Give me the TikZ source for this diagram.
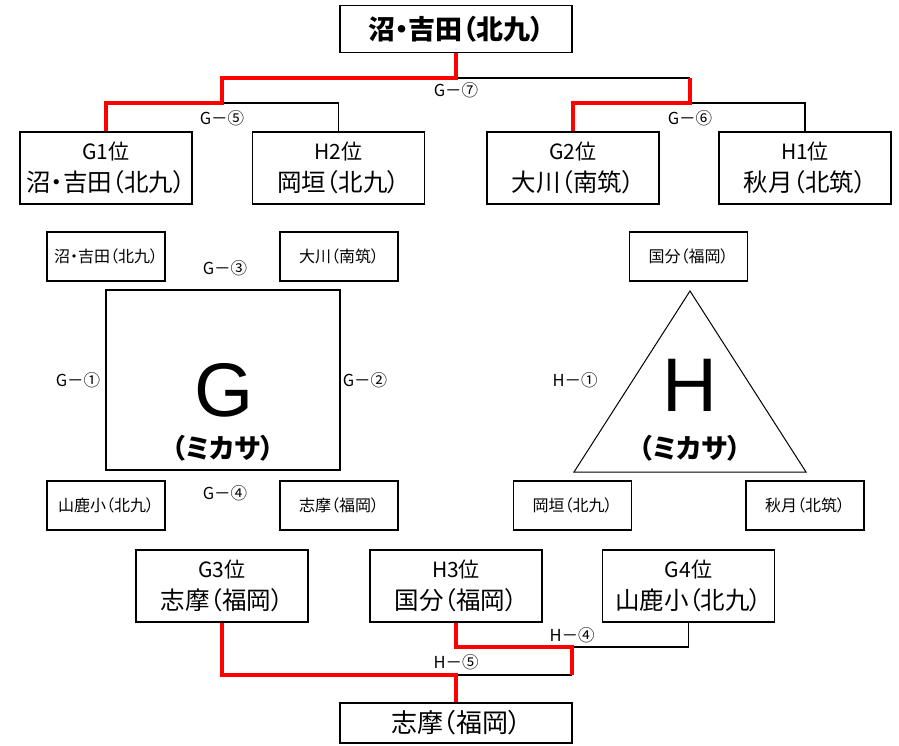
\documentclass[tikz,border=0pt]{standalone}
\usepackage{fontspec}
\setmainfont{Noto Sans CJK JP}[RawFeature=+palt]
\newfontfamily\latinbig{Liberation Sans}
\begin{document}
\begin{tikzpicture}[x=1pt,y=-1pt,
  box/.style={draw, line width=1.6pt, inner sep=0pt, align=center},
  rowbox/.style={box, minimum width=172pt, minimum height=72pt},
  smallbox/.style={box, minimum width=118pt, minimum height=49pt, font=\fontsize{16}{18}\selectfont},
  blk/.style={line width=1.6pt},
  win/.style={draw=red, line width=3.6pt, line join=miter},
  lbl/.style={inner sep=0pt, font=\fontsize{16.5}{18}\selectfont},
  big/.style={inner sep=0pt, font=\latinbig\fontsize{76}{80}\selectfont},
  sub/.style={inner sep=0pt, font=\bfseries\fontsize{27}{30}\selectfont}]
\useasboundingbox (0,0) rectangle (899,745);
\newcommand{\twoline}[2]{{\fontsize{21}{23}\selectfont #1}\\[8pt]{\fontsize{24.5}{26}\selectfont #2}}
% top bracket
\node[box, minimum width=232pt, minimum height=47pt, font=\bfseries\fontsize{27}{29}\selectfont] (top) at (456,29) {沼・吉田（北九）};
\node[rowbox] (g1) at (106,168) {\twoline{G1位}{沼・吉田（北九）}};
\node[rowbox] (h2) at (338.5,168) {\twoline{H2位}{岡垣（北九）}};
\node[rowbox] (g2) at (573,168) {\twoline{G2位}{大川（南筑）}};
\node[rowbox] (h1) at (805,168) {\twoline{H1位}{秋月（北筑）}};
\coordinate (k7) at (456,78);
\coordinate (kL) at (222,78);
\coordinate (kR) at (690,78);
\coordinate (kL5) at (222,103);
\coordinate (kR6) at (690,103);
\draw[blk] (k7) -- (kR);
\draw[blk] (kL5) -| (h2.north);
\draw[blk] (kR6) -| (h1.north);
\draw[win] (top.south) -- (k7) -- (kL) -- (kL5) -| (g1.north);
\draw[win] (kR) -- (kR6) -| (g2.north);
\node[lbl] (l7) at (456,90) {G－⑦};
\node[lbl] (l5) at (222,118) {G－⑤};
\node[lbl] (l6) at (690,118) {G－⑥};
% group G
\node[smallbox] (ga) at (106,256.5) {沼・吉田（北九）};
\node[smallbox] (gb) at (339,256.5) {大川（南筑）};
\node[smallbox] (gc) at (106,505.5) {山鹿小（北九）};
\node[smallbox] (gd) at (339,505.5) {志摩（福岡）};
\node[box, minimum width=234pt, minimum height=180pt] (gbox) at (223,380) {};
\node[big] (gl) at (224,390) {G};
\node[sub] (gs) at (223,448) {（ミカサ）};
\node[lbl] (g3l) at (225,268) {G－③};
\node[lbl] (g1l) at (78,380) {G－①};
\node[lbl] (g2l) at (365,380) {G－②};
\node[lbl] (g4l) at (225,493) {G－④};
% group H
\node[smallbox] (ha) at (688.5,256.5) {国分（福岡）};
\node[smallbox] (hb) at (572.5,505.5) {岡垣（北九）};
\node[smallbox] (hc) at (805,505.5) {秋月（北筑）};
\coordinate (t1) at (690,291);
\coordinate (t2) at (574,472);
\coordinate (t3) at (806,472);
\draw[line width=1pt, line join=miter] (t1) -- (t2) -- (t3) -- cycle;
\node[big] (hl) at (690,385) {H};
\node[sub] (hs) at (690,448) {（ミカサ）};
\node[lbl] (h1l) at (575,380) {H－①};
% bottom bracket
\node[rowbox] (g3) at (222,586) {\twoline{G3位}{志摩（福岡）}};
\node[rowbox] (h3) at (456,586) {\twoline{H3位}{国分（福岡）}};
\node[rowbox] (g4) at (688.5,586) {\twoline{G4位}{山鹿小（北九）}};
\node[box, minimum width=232pt, minimum height=40pt, font=\fontsize{26}{28}\selectfont] (fin) at (456,723) {志摩（福岡）};
\coordinate (j5) at (456,675);
\coordinate (j4) at (572,647);
\coordinate (j4b) at (572,675);
\draw[blk] (j4) -| (g4.south);
\draw[blk] (j5) -- (j4b);
\draw[win] (g3.south) |- (j5) -- (fin.north);
\draw[win] (h3.south) |- (j4) -- (j4b);
\node[lbl] (h4l) at (572,635) {H－④};
\node[lbl] (h5l) at (456,662) {H－⑤};
\end{tikzpicture}
\end{document}
